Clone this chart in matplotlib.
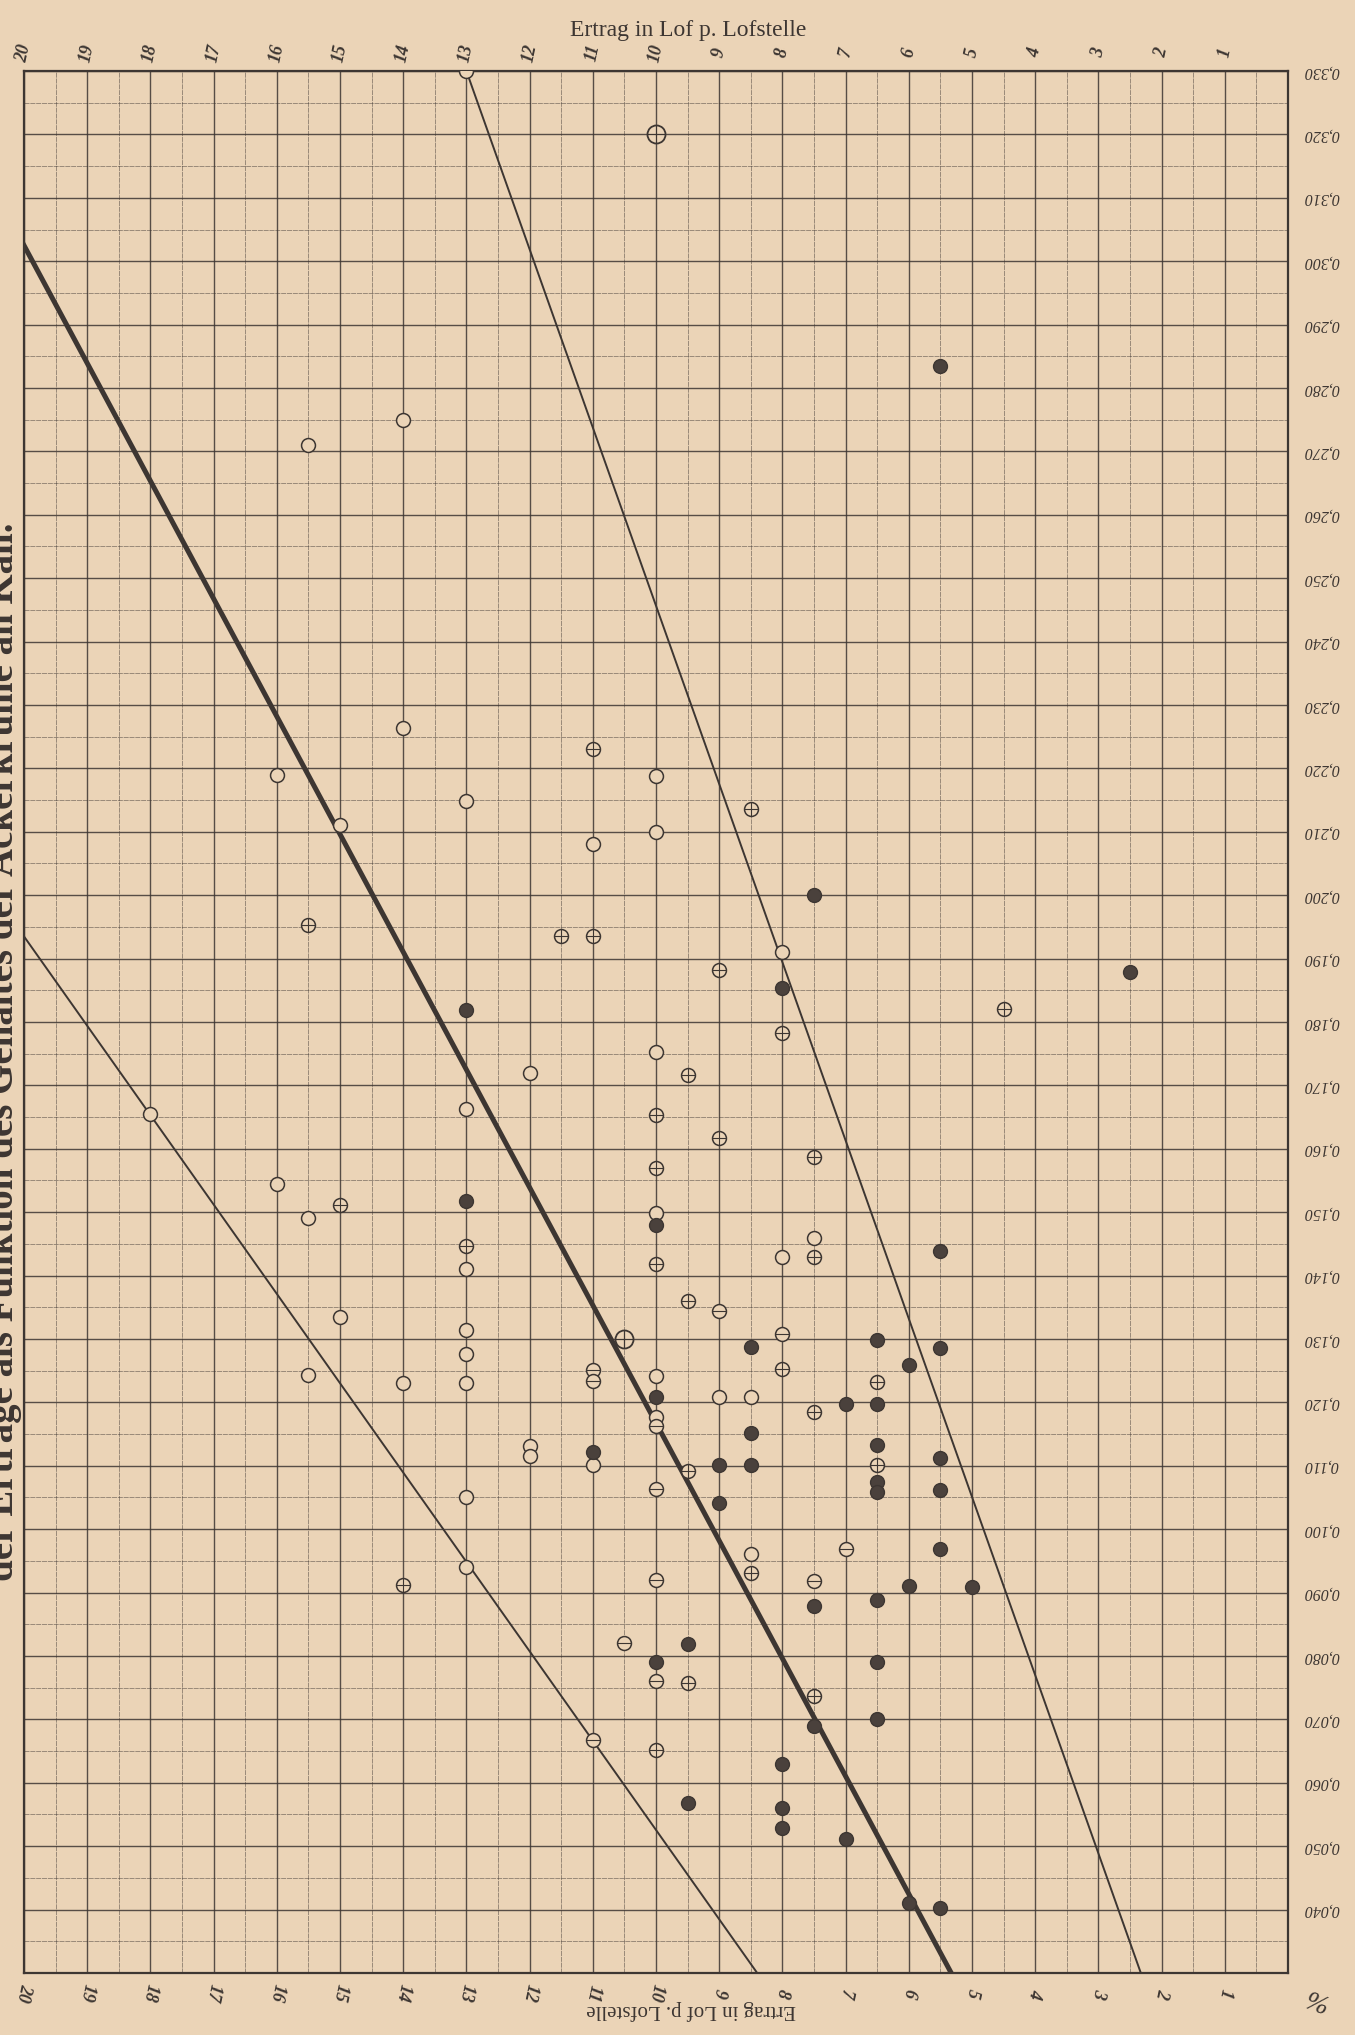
import numpy as np
import matplotlib
matplotlib.use("Agg")
import matplotlib.pyplot as plt
from matplotlib.ticker import MultipleLocator

# Ertrag (Lof p. Lofstelle) gegen Kaligehalt (%)
open_x = [13, 14, 15.5, 14, 16, 10, 13, 15, 10, 11, 8, 10, 12, 18, 13, 16, 15.5, 10, 13, 7.5,
          8, 15, 13, 13, 15.5, 14, 13, 10, 9, 8.5, 10, 12, 12, 11, 13, 8.5, 13]
open_y = [0.330, 0.275, 0.271, 0.2263, 0.219, 0.2188, 0.2149, 0.211, 0.210, 0.2081, 0.1911,
          0.1753, 0.1719, 0.1655, 0.1662, 0.1544, 0.1491, 0.1499, 0.1411, 0.1459, 0.143,
          0.1334, 0.1314, 0.1277, 0.1243, 0.1231, 0.1231, 0.1241, 0.1209, 0.1209, 0.1177,
          0.1131, 0.1116, 0.1101, 0.1051, 0.0961, 0.0941]

plus_x = [11, 8.5, 15.5, 11.5, 11, 9, 4.5, 8, 9.5, 10, 9, 7.5, 15, 10, 13, 10, 7.5, 9.5, 8,
          6.5, 7.5, 9.5, 6.5, 8.5, 14, 9.5, 7.5, 10]
plus_y = [0.223, 0.2136, 0.1953, 0.1936, 0.1936, 0.1882, 0.1820, 0.1782, 0.1716, 0.1653,
          0.1617, 0.1587, 0.1511, 0.1569, 0.1446, 0.1419, 0.143, 0.136, 0.1252, 0.1232,
          0.1185, 0.1091, 0.1101, 0.0931, 0.0912, 0.0758, 0.0737, 0.0651]

big_plus_x = [10, 10.5]
big_plus_y = [0.320, 0.130]

minus_x = [9, 8, 11, 11, 10, 10, 7, 10, 7.5, 10.5, 10, 11]
minus_y = [0.1344, 0.1308, 0.1251, 0.1233, 0.1162, 0.1063, 0.0968, 0.0920, 0.0919, 0.082,
           0.0760, 0.0668]

filled_x = [5.5, 7.5, 2.5, 8, 13, 13, 10, 5.5, 6.5, 8.5, 5.5, 6, 10, 7, 6.5, 8.5, 11, 6.5, 9,
            8.5, 5.5, 6.5, 6.5, 5.5, 9, 5.5, 6, 5, 6.5, 7.5, 9.5, 10, 6.5, 7.5, 6.5, 8, 9.5,
            8, 8, 7, 6, 5.5]
filled_y = [0.2835, 0.2001, 0.1879, 0.1853, 0.1819, 0.1517, 0.1480, 0.1439, 0.1298, 0.1288,
            0.1286, 0.1259, 0.1208, 0.1198, 0.1198, 0.1151, 0.1122, 0.1133, 0.1101, 0.1101,
            0.1112, 0.1075, 0.1059, 0.1061, 0.1042, 0.0968, 0.0910, 0.0909, 0.0888, 0.0879,
            0.0819, 0.0791, 0.0790, 0.0690, 0.0700, 0.0630, 0.0568, 0.0560, 0.0529, 0.0511,
            0.0411, 0.0402]

# Geraden (Anfangs- und Endpunkt)
linie_rechts = ([13, 2.33], [0.330, 0.030])
linie_mitte = ([20, 5.33], [0.3025, 0.030])
linie_links = ([20, 8.4], [0.1935, 0.030])

x_werte = list(range(20, 0, -1))
y_werte = [round(0.04 + 0.01 * i, 3) for i in range(30)]
y_labels = ['0,' + f'{int(round(v * 1000)):03d}' for v in y_werte]

papier = '#ebd4b7'
tinte = '#3d3632'

fig = plt.figure(figsize=(13.55, 20.35), dpi=100, facecolor=papier)
ax = fig.add_axes([0.0177, 0.0305, 0.9329, 0.9346])
ax.set_facecolor(papier)
ax.set_xlim(20, 0)
ax.set_ylim(0.030, 0.330)

ax.xaxis.set_major_locator(MultipleLocator(1))
ax.xaxis.set_minor_locator(MultipleLocator(0.5))
ax.yaxis.set_major_locator(MultipleLocator(0.01))
ax.yaxis.set_minor_locator(MultipleLocator(0.005))
ax.grid(which='major', color=tinte, lw=1.0, alpha=0.85)
ax.grid(which='minor', color=tinte, lw=0.6, ls=(0, (6, 1)), alpha=0.55)
ax.tick_params(which='both', length=0, labelbottom=False, labelleft=False)
for s in ax.spines.values():
    s.set_color(tinte)
    s.set_linewidth(1.6)
ax.set_axisbelow(True)

ax.plot(*linie_rechts, color=tinte, lw=1.4, zorder=3)
ax.plot(*linie_links, color=tinte, lw=1.4, zorder=3)
ax.plot(*linie_mitte, color=tinte, lw=3.6, zorder=3)

ms = 10
ax.plot(open_x, open_y, 'o', ms=ms, mfc=papier, mec=tinte, mew=1.1, ls='none', zorder=4)
ax.plot(plus_x, plus_y, 'o', ms=ms, mfc=papier, mec=tinte, mew=1.1, ls='none', zorder=4)
ax.plot(plus_x, plus_y, '+', ms=ms, mec=tinte, mew=0.8, ls='none', zorder=5)
ax.plot(big_plus_x, big_plus_y, 'o', ms=13, mfc=papier, mec=tinte, mew=1.3, ls='none', zorder=4)
ax.plot(big_plus_x, big_plus_y, '+', ms=13, mec=tinte, mew=0.9, ls='none', zorder=5)
ax.plot(minus_x, minus_y, 'o', ms=ms, mfc=papier, mec=tinte, mew=1.1, ls='none', zorder=4)
ax.plot(minus_x, minus_y, '_', ms=ms, mec=tinte, mew=0.8, ls='none', zorder=5)
ax.plot(filled_x, filled_y, 'o', ms=ms, mfc='#4a413c', mec=tinte, mew=1.0, ls='none', zorder=4)

serif = ['Liberation Serif', 'DejaVu Serif']
tx = ax.get_xaxis_transform()
ty = ax.get_yaxis_transform()
for v in x_werte:
    ax.text(v, 1.0095, str(v), transform=tx, rotation=78, ha='center', va='center',
            fontsize=13, fontstyle='italic', fontweight='bold', family=serif, color=tinte)
    ax.text(v, -0.0105, str(v), transform=tx, rotation=-102, ha='center', va='center',
            fontsize=13, fontstyle='italic', fontweight='bold', family=serif, color=tinte)
for v, lab in zip(y_werte, y_labels):
    ax.text(1.026, v, lab, transform=ty, rotation=180, ha='center', va='center',
            fontsize=11.5, fontstyle='italic', family=serif, color=tinte)
ax.text(1.022, 0.026, '%', transform=ty, rotation=160, ha='center', va='center',
        fontsize=20, fontstyle='italic', family=serif, color=tinte)

fig.text(0.508, 0.985, 'Ertrag in Lof p. Lofstelle', ha='center', va='center',
         fontsize=17, family=serif, color=tinte)
fig.text(0.51, 0.0125, 'Ertrag in Lof p. Lofstelle', ha='center', va='center',
         rotation=180, fontsize=15, family=serif, color=tinte)

fig.text(13 / 1355, 0.483, 'der Erträge als Funktion des Gehaltes der Ackerkrume an Kali.',
         rotation=90, rotation_mode='anchor', ha='center', va='baseline',
         fontsize=28, fontweight='bold', family=serif, color=tinte)

fig.savefig('out.png', dpi=100, facecolor=papier)
